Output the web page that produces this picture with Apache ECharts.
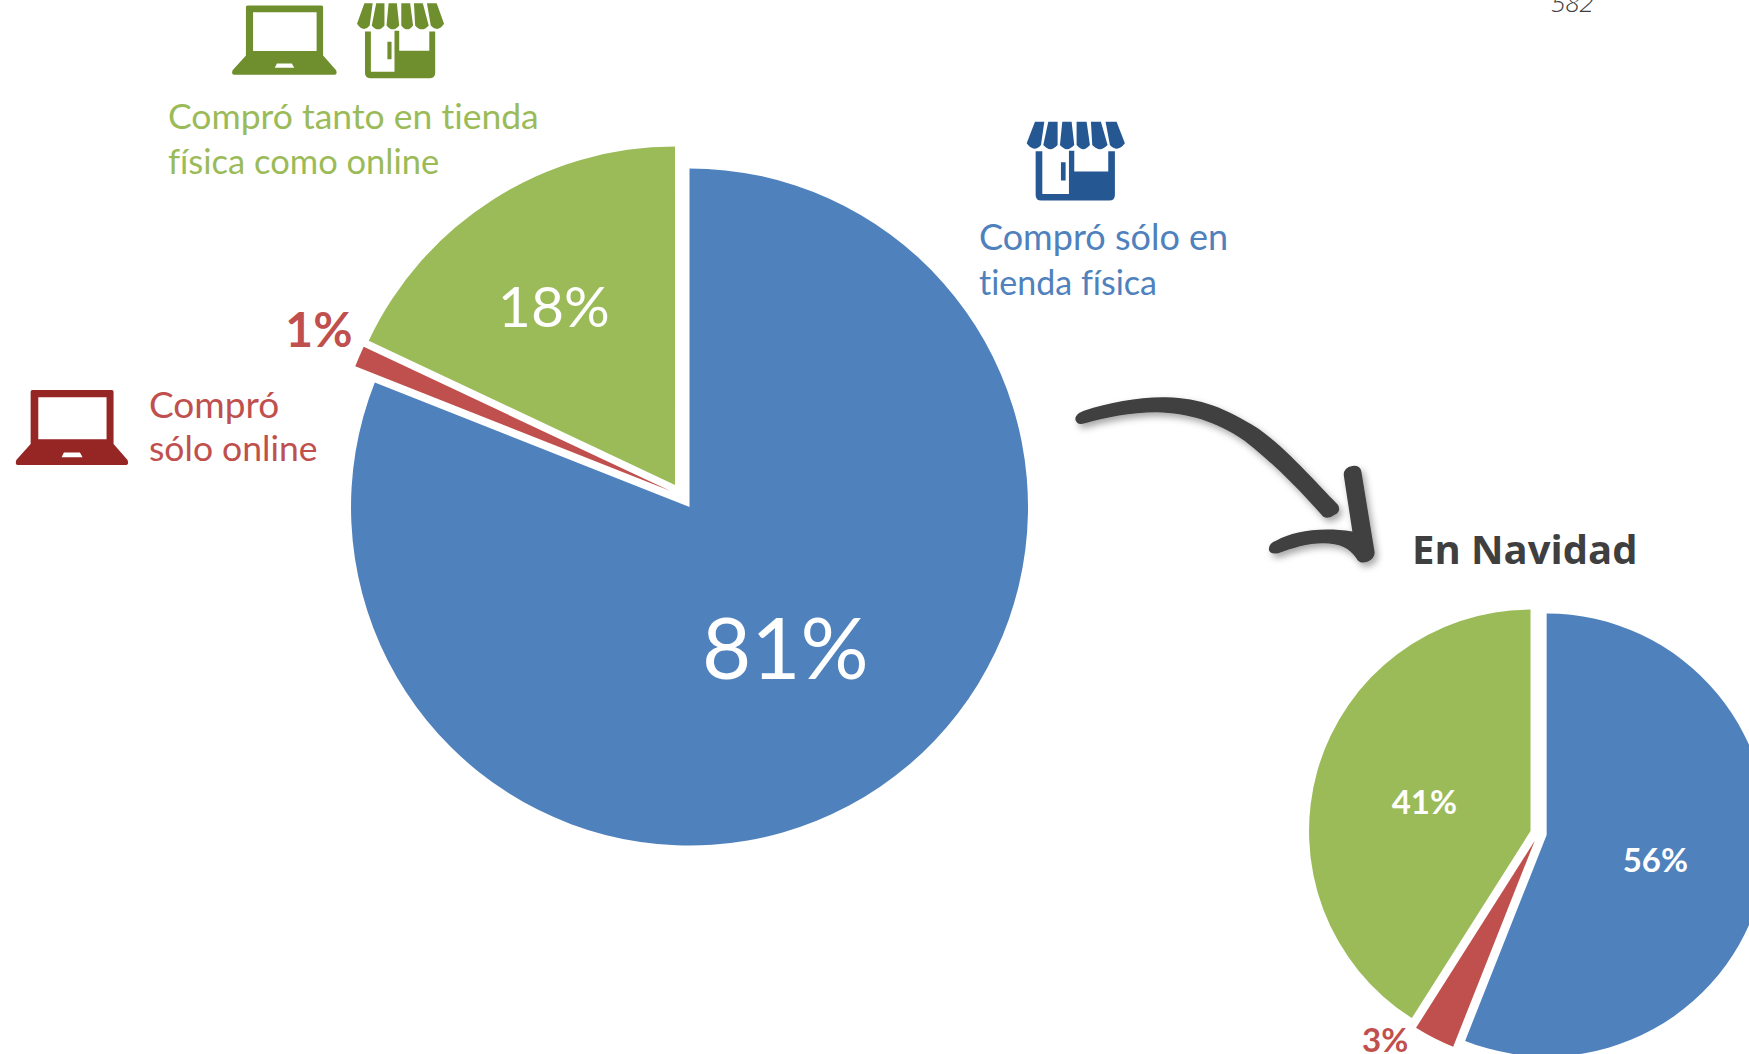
<!DOCTYPE html>
<html>
<head>
<meta charset="utf-8">
<style>
html,body{margin:0;padding:0;background:#fff}
#chart{width:1749px;height:1054px}
#chart text{font-variant-ligatures:none !important;font-feature-settings:"liga" 0,"clig" 0,"dlig" 0,"calt" 0 !important}
</style>
<script src="https://cdn.jsdelivr.net/npm/echarts@6/dist/echarts.min.js"></script>
</head>
<body>
<div id="chart"></div>
<script>
// Purchase channel shares, clockwise from twelve o'clock
const channels = ['Compró sólo en tienda física', 'Compró sólo online', 'Compró tanto en tienda física como online'];
const yearValues = [81, 1, 18];
const christmasValues = [56, 3, 41];
const christmasTitle = 'En Navidad';
const pageNumber = '582';
const storeLines = ['Compró sólo en', 'tienda física'];
const onlineLines = ['Compró', 'sólo online'];
const bothLines = ['Compró tanto en tienda', 'física como online'];

const BLUE = '#4F81BD', RED = '#C0504D', GREEN = '#9BBB59';
const sliceColors = [BLUE, RED, GREEN];

// Icon outlines, in their own drawing units
const LAPTOP = 'M97,60 H336 Q341,60 341,65 V222 L383,270 Q388,285 378,285 H54 Q44,285 49,270 L92,222 V65 Q92,60 97,60 Z ' +
  'M115,82 V208 H320 V82 Z M192,248 L185,262 H248 L240,248 Z';
const STORE = 'M60,35 H88 L78,105 Q57,130 35,100 Z M100,35 H128 L128,105 Q106,130 85,105 Z ' +
  'M142,35 H170 L178,105 Q156,130 135,105 Z M185,35 H215 L225,105 Q205,130 185,105 Z ' +
  'M228,35 H258 L278,105 Q255,130 232,105 Z M272,35 H305 L330,100 Q308,130 285,105 Z ' +
  'M62,124 H82 V252 H162 V122 H178 V185 H280 V124 H300 V255 Q300,272 283,272 H79 Q62,272 62,255 Z ' +
  'M138,157 H152 V212 H138 Z';
const ARROW = 'M46,118 C46,105 58,97 72,92 C150,68 240,50 320,52 C420,54 500,85 595,146 C685,210 770,310 835,375 ' +
  'Q845,395 825,405 Q805,420 790,410 C715,325 635,245 555,183 C465,122 385,100 290,97 C210,98 140,112 75,130 Q50,138 46,118 Z ' +
  'M852,285 Q852,262 878,258 Q902,256 905,275 L945,518 Q945,535 925,545 Q900,555 890,535 C870,505 840,490 790,490 ' +
  'C745,490 695,505 655,520 Q630,525 627,508 Q627,490 650,482 C700,455 780,440 878,455 Z';

echarts.graphic.registerShape('laptopIcon', echarts.graphic.extendPath(LAPTOP, {}));
echarts.graphic.registerShape('storeIcon', echarts.graphic.extendPath(STORE, {}));
echarts.graphic.registerShape('curvedArrow', echarts.graphic.extendPath(ARROW, {}));

function pie(values, center, radius, gap, labels) {
  return {
    type: 'pie',
    startAngle: 90,
    clockwise: true,
    center: center,
    radius: [0, radius],
    selectedMode: 'multiple',
    selectedOffset: gap,
    avoidLabelOverlap: false,
    silent: true,
    emphasis: { disabled: true },
    labelLine: { show: false },
    label: { show: true, position: 'inside', formatter: '{c}%' },
    labelLayout: function (p) { return { dx: labels[p.dataIndex].shift[0], dy: labels[p.dataIndex].shift[1] }; },
    data: values.map(function (v, i) {
      return {
        name: channels[i],
        value: v,
        selected: true,
        itemStyle: { color: sliceColors[i] },
        select: { itemStyle: { color: sliceColors[i] } },
        label: {
          fontFamily: 'Lato',
          fontSize: labels[i].size,
          fontWeight: labels[i].weight,
          color: labels[i].color
        }
      };
    })
  };
}

function line(text, x, y, size, color, extra) {
  return {
    type: 'text', x: x, y: y, silent: true,
    style: Object.assign({
      text: text, fill: color, font: size + 'px Lato',
      textAlign: 'left', textVerticalAlign: 'middle'
    }, extra || {})
  };
}

function icon(shape, x, y, sx, sy, color) {
  return { type: shape, x: x, y: y, scaleX: sx, scaleY: sy, silent: true, style: { fill: color } };
}

const chart = echarts.init(document.getElementById('chart'), null, { renderer: 'svg' });
chart.setOption({
  animation: false,
  backgroundColor: '#ffffff',
  series: [
    pie(yearValues, [682.1, 496.1], 338.5, 13.2, [
      { shift: [-1, -3], size: 85, weight: 400, color: '#fff' },
      { shift: [-193, -94], size: 48, weight: 700, color: RED },
      { shift: [-29, -35], size: 57, weight: 400, color: '#fff' }
    ]),
    pie(christmasValues, [1538.5, 833.4], 221.5, 8.3, [
      { shift: [-3, 3], size: 33, weight: 700, color: '#fff' },
      { shift: [-98, 97], size: 33, weight: 700, color: RED },
      { shift: [3, 2], size: 33, weight: 700, color: '#fff' }
    ])
  ],
  graphic: [
    icon('laptopIcon', 0, 370, 1 / 3, 1 / 3, '#952624'),
    icon('laptopIcon', 217.4, -13, 0.31, 0.308, '#6F8F2F'),
    icon('storeIcon', 346.7, -7.8, 0.295, 0.316, '#6F8F2F'),
    icon('storeIcon', 1015, 110, 1 / 3, 1 / 3, '#255893'),
    {
      type: 'curvedArrow', x: 1060, y: 380, scaleX: 1 / 3, scaleY: 1 / 3, silent: true,
      style: { fill: '#3F3F3F', shadowBlur: 7, shadowColor: 'rgba(0,0,0,0.35)', shadowOffsetX: 3, shadowOffsetY: 4 }
    },
    line(bothLines[0], 168, 115.5, 35.5, GREEN),
    line(bothLines[1], 168, 160.5, 34.5, GREEN),
    line(storeLines[0], 979, 236, 36, BLUE),
    line(storeLines[1], 979, 281.5, 34, BLUE),
    line(onlineLines[0], 149, 403.5, 37, RED),
    line(onlineLines[1], 149, 447.5, 35.5, RED),
    line(christmasTitle, 1412, 548.5, 40, '#3F3F3F', { font: '700 40px "Open Sans"' }),
    line(pageNumber, 1551, 2, 26, '#404040', { font: 'italic 300 26px "Open Sans"' })
  ]
});
</script>
</body>
</html>
